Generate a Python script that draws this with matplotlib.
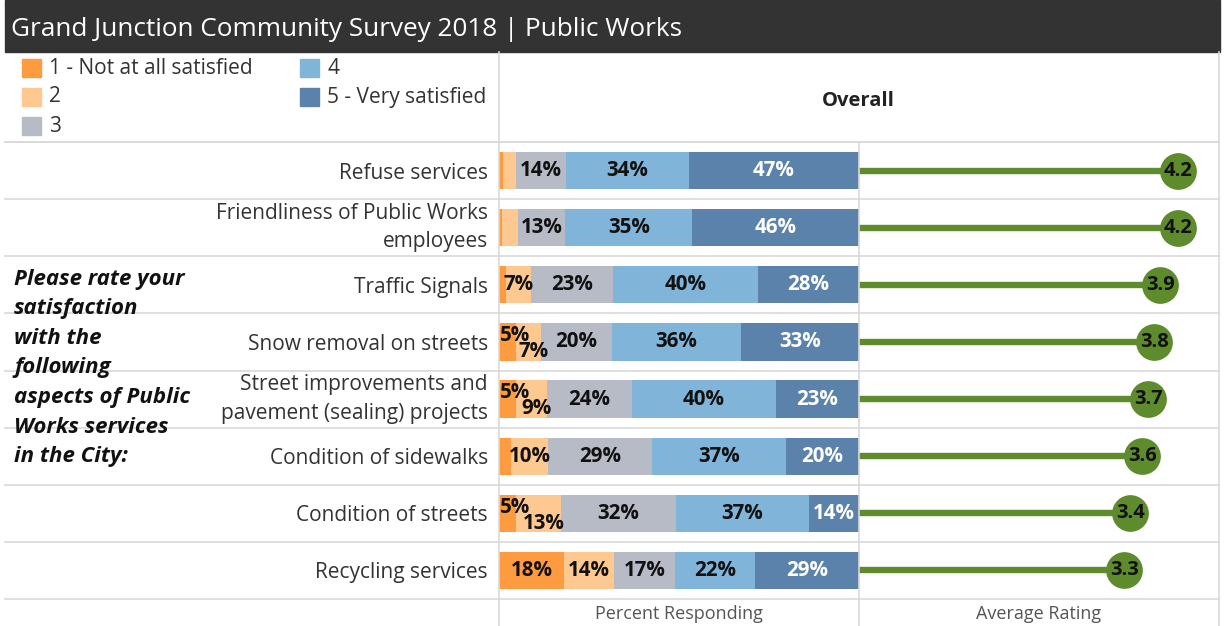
import matplotlib
matplotlib.use("Agg")
import matplotlib.pyplot as plt
from matplotlib.lines import Line2D
from matplotlib.patches import Rectangle
from matplotlib.transforms import blended_transform_factory

W, H = 1225, 626
FONT = "Open Sans"

items = [
    "Refuse services",
    "Friendliness of Public Works\nemployees",
    "Traffic Signals",
    "Snow removal on streets",
    "Street improvements and\npavement (sealing) projects",
    "Condition of sidewalks",
    "Condition of streets",
    "Recycling services",
]
levels = ["1 - Not at all satisfied", "2", "3", "4", "5 - Very satisfied"]
pct_1 = [1.2, 0.8, 2.0, 4.6, 4.6, 3.3, 4.6, 18.0]
pct_2 = [3.4, 4.4, 6.8, 7.0, 8.6, 10.4, 12.7, 14.0]
pct_3 = [14.0, 13.2, 23.0, 19.8, 23.8, 28.7, 31.8, 17.0]
pct_4 = [34.1, 35.3, 40.2, 35.9, 39.9, 37.4, 37.0, 22.0]
pct_5 = [47.3, 46.3, 28.0, 32.7, 23.1, 20.2, 13.9, 29.0]
avg_rating = [4.2, 4.2, 3.9, 3.8, 3.7, 3.6, 3.4, 3.3]

COLORS = ["#fd9b40", "#fec891", "#b6bbc6", "#80b4d8", "#5b82aa"]
GREEN = "#5e8b2c"
GRID = "#d9d9d9"


def fx(px):
    return px / W


def fy(py):
    return 1 - py / H


def rnd(v):
    return int(v + 0.5)


fig = plt.figure(figsize=(W / 100, H / 100), dpi=100)
fig.patch.set_facecolor("white")

# title band
fig.add_artist(Rectangle((fx(5), fy(52)), fx(1220) - fx(5), 52 / H,
                         transform=fig.transFigure, color="#333333", zorder=0))
fig.text(fx(11), fy(29), "Grand Junction Community Survey 2018 | Public Works",
         color="white", fontsize=18.8, family=FONT, va="center")

# legend
leg_pos = [(22, 68), (22, 97), (22, 126), (300, 68), (300, 97)]
for (lx, ly), lab, c in zip(leg_pos, levels, COLORS):
    fig.add_artist(Rectangle((fx(lx), fy(ly + 9)), 19 / W, 18 / H,
                             transform=fig.transFigure, color=c))
    fig.text(fx(lx + 27), fy(ly), lab, fontsize=15, family=FONT,
             color="#333333", va="center")

fig.text(fx(858), fy(101), "Overall", fontsize=14.5, family=FONT,
         fontweight="bold", ha="center", va="center", color="#222222")

top, bot = 142, 599
ax = fig.add_axes([fx(499), fy(bot), fx(859) - fx(499), (bot - top) / H])
ax2 = fig.add_axes([fx(859), fy(bot), fx(1219) - fx(859), (bot - top) / H])

n = len(items)
ypos = list(range(n))
segs = [pct_1, pct_2, pct_3, pct_4, pct_5]
left = [0.0] * n
for k, (vals, c) in enumerate(zip(segs, COLORS)):
    ax.barh(ypos, vals, left=left, height=0.65, color=c, zorder=2)
    for i, v in enumerate(vals):
        if rnd(v) < 5:
            continue
        cx = left[i] + v / 2
        dy = 0
        prev = segs[k - 1][i] if k > 0 else 0
        nxt = segs[k + 1][i] if k < 4 else 0
        # tiny neighbouring segments: stagger the labels like the original
        if k == 0 and v < 10 and rnd(nxt) >= 5 and nxt < 14:
            dy = -0.11
            cx = max(cx, 4.4)
        if k == 1 and v < 14 and rnd(prev) >= 5 and prev < 10:
            dy = 0.17
            cx += 1.5
        ax.text(cx, i + dy, f"{rnd(v)}%", ha="center", va="center",
                fontsize=14.8, family=FONT, fontweight="bold",
                color="white" if k == 4 else "#111111", zorder=3)
    left = [a + b for a, b in zip(left, vals)]

ax.set_xlim(0, 100)
ax.set_ylim(n - 0.5, -0.5)
ax.set_xticks([])
ax.set_yticks(ypos)
ax.set_yticklabels(items, fontsize=15, family=FONT, color="#333333",
                   linespacing=1.45)
for t in ax.get_yticklabels():
    t.set_multialignment("right")
    t.set_va("center" if "\n" in t.get_text() else "center_baseline")
ax.tick_params(axis="y", length=0, pad=8)
for s in ax.spines.values():
    s.set_visible(False)

# average rating lollipops
ax2.set_xlim(-1.12, 4.88)
ax2.set_ylim(n - 0.5, -0.5)
x0 = ax2.get_xlim()[0]
ax2.hlines(ypos, x0, avg_rating, color=GREEN, linewidth=4.6, zorder=2)
ax2.scatter(avg_rating, ypos, s=700, color=GREEN, zorder=3, linewidths=0)
for i, v in enumerate(avg_rating):
    ax2.text(v, i, f"{v:.1f}", ha="center", va="center", fontsize=14.5,
             family=FONT, fontweight="bold", color="#111111", zorder=4)
ax2.set_xticks([])
ax2.set_yticks([])
for s in ax2.spines.values():
    s.set_visible(False)

# grid lines
tr = blended_transform_factory(fig.transFigure, ax.transData)
for i in range(n + 1):
    fig.add_artist(Line2D([fx(5), fx(1219)], [i - 0.5, i - 0.5], transform=tr,
                          color=GRID, linewidth=1.2, zorder=1))
fig.add_artist(Line2D([fx(5), fx(1219)], [fy(142), fy(142)],
                      transform=fig.transFigure, color=GRID, linewidth=1.2))
fig.add_artist(Line2D([fx(499), fx(499)], [fy(52), 0],
                      transform=fig.transFigure, color=GRID, linewidth=1.2))
fig.add_artist(Line2D([fx(859), fx(859)], [fy(142), 0],
                      transform=fig.transFigure, color=GRID, linewidth=1.2))
fig.add_artist(Line2D([fx(1219), fx(1219)], [fy(52), 0],
                      transform=fig.transFigure, color=GRID, linewidth=1.2))

fig.text(fx(14), fy(368),
         "Please rate your\nsatisfaction\nwith the\nfollowing\naspects of Public\nWorks services\nin the City:",
         fontsize=16, family=FONT, fontweight="bold", style="italic",
         va="center", ha="left", linespacing=1.54, color="#111111")

fig.text(fx(679), fy(614), "Percent Responding", fontsize=13, family=FONT,
         color="#555555", ha="center", va="center")
fig.text(fx(1039), fy(614), "Average Rating", fontsize=13, family=FONT,
         color="#555555", ha="center", va="center")

fig.savefig("out.png", dpi=100)
